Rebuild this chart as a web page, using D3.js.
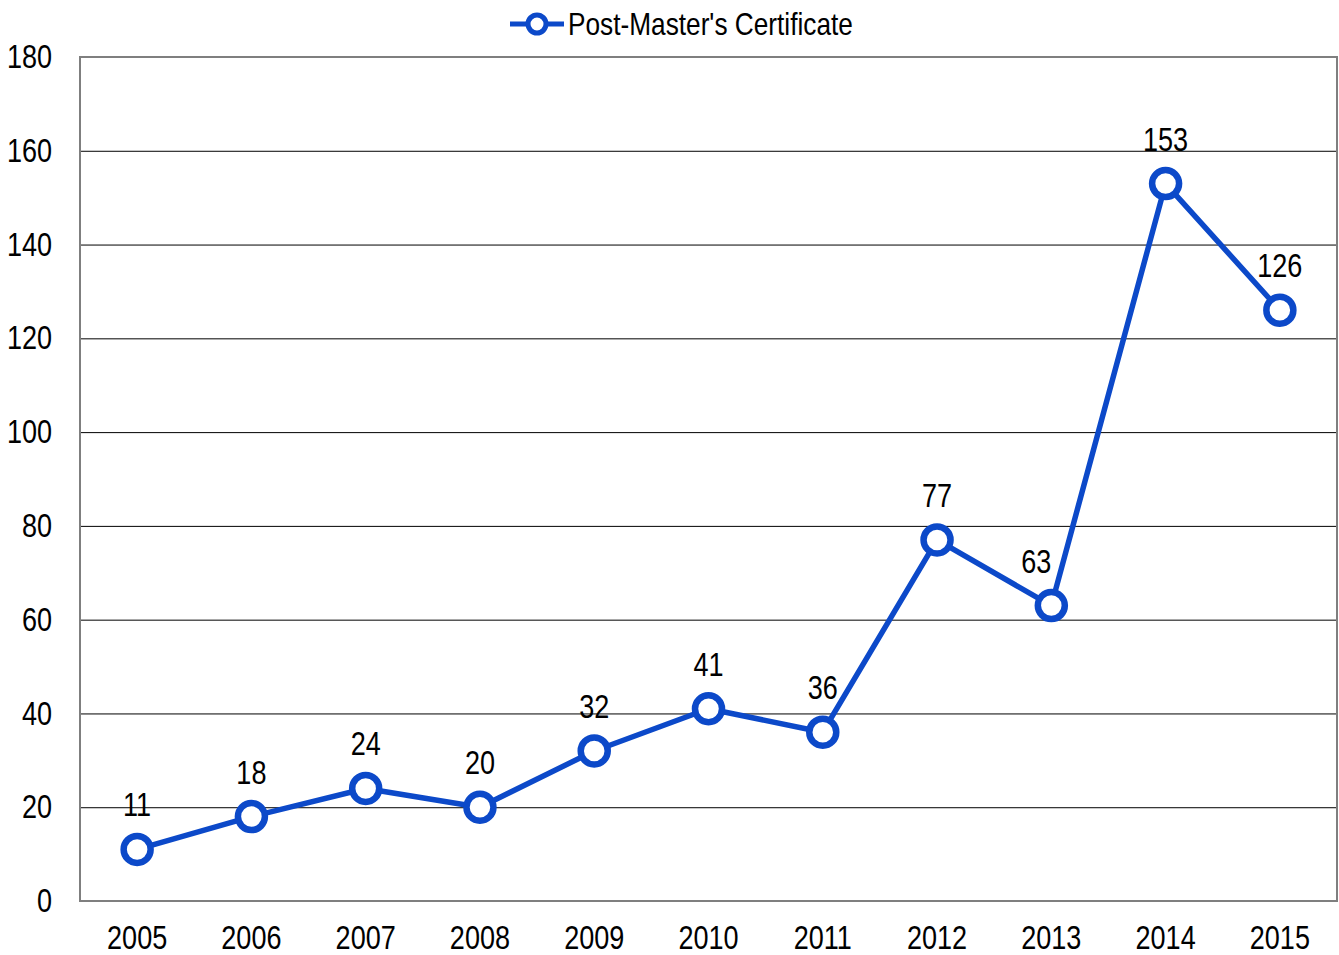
<!DOCTYPE html>
<html>
<head>
<meta charset="utf-8">
<script src="https://cdn.jsdelivr.net/npm/d3@7"></script>
<style>
  body { margin: 0; background: #fff; }
  text { font-family: "Liberation Sans", Arial, sans-serif; fill: #000; }
</style>
</head>
<body>
<div id="chart"></div>
<script>
const years = ["2005", "2006", "2007", "2008", "2009", "2010", "2011", "2012", "2013", "2014", "2015"]
const certificates = [11, 18, 24, 20, 32, 41, 36, 77, 63, 153, 126]
const yTicks = [0, 20, 40, 60, 80, 100, 120, 140, 160, 180]
const seriesName = "Post-Master's Certificate"

const width = 1339, height = 955
const margin = {top: 57, right: 2, bottom: 54, left: 80}
const blue = "#0c49c9"
const squeeze = 0.82  // fake a narrow face, no Arial Narrow here

// label nudges like excel did (2013 label sits left of the line)
const labelDx = {"2013": -15}

// squeeze text horizontally around its own x anchor
function narrow(sel) {
  sel.each(function() {
    const t = d3.select(this)
    const ax = +t.attr("x") || 0
    t.attr("transform", `translate(${ax},0) scale(${squeeze},1) translate(${-ax},0)`)
  })
}

const svg = d3.select("#chart")
  .append("svg")
  .attr("width", width)
  .attr("height", height)

const x = d3.scaleBand()
  .domain(years)
  .range([margin.left, width - margin.right])

const y = d3.scaleLinear()
  .domain([0, 180])
  .range([height - margin.bottom, margin.top])

// gridlines
svg.append("g")
  .selectAll("line")
  .data(yTicks.filter(d => d > 0 && d < 180))
  .join("line")
  .attr("x1", margin.left)
  .attr("x2", width - margin.right)
  .attr("y1", d => y(d) + 0.5)
  .attr("y2", d => y(d) + 0.5)
  .attr("stroke", "#000")
  .attr("stroke-width", 1)

// plot frame
svg.append("rect")
  .attr("x", margin.left)
  .attr("y", margin.top)
  .attr("width", width - margin.right - margin.left)
  .attr("height", height - margin.bottom - margin.top)
  .attr("fill", "none")
  .attr("stroke", "#7f7f7f")
  .attr("stroke-width", 2)

// y axis labels
const yAxis = svg.append("g")
  .attr("transform", `translate(${margin.left},0)`)
  .call(d3.axisLeft(y).tickValues(yTicks).tickSize(0).tickPadding(28))
yAxis.select(".domain").remove()
yAxis.selectAll("text")
  .style("font-size", "33px")
  .style("font-family", null)
  .call(narrow)

// x axis labels
const xAxis = svg.append("g")
  .attr("transform", `translate(0,${height - margin.bottom})`)
  .call(d3.axisBottom(x).tickSize(0).tickPadding(25))
xAxis.select(".domain").remove()
xAxis.selectAll("text")
  .style("font-size", "33px")
  .style("font-family", null)
  .call(narrow)

const cx = d => x(d) + x.bandwidth() / 2

const line = d3.line()
  .x((d, i) => cx(years[i]))
  .y(d => y(d))

svg.append("path")
  .datum(certificates)
  .attr("fill", "none")
  .attr("stroke", blue)
  .attr("stroke-width", 5.5)
  .attr("stroke-linejoin", "round")
  .attr("d", line)

svg.append("g")
  .selectAll("circle")
  .data(certificates)
  .join("circle")
  .attr("cx", (d, i) => cx(years[i]))
  .attr("cy", d => y(d))
  .attr("r", 13.5)
  .attr("fill", "#fff")
  .attr("stroke", blue)
  .attr("stroke-width", 6.5)

// data labels
svg.append("g")
  .selectAll("text")
  .data(certificates)
  .join("text")
  .attr("x", (d, i) => cx(years[i]) + (labelDx[years[i]] || 0))
  .attr("y", d => y(d) - 33)
  .attr("text-anchor", "middle")
  .style("font-size", "33px")
  .text(d => d)
  .call(narrow)

// legend
const legend = svg.append("g").attr("transform", "translate(510,24)")
legend.append("line")
  .attr("x1", 0).attr("x2", 54)
  .attr("stroke", blue)
  .attr("stroke-width", 5)
legend.append("circle")
  .attr("cx", 27)
  .attr("r", 9)
  .attr("fill", "#fff")
  .attr("stroke", blue)
  .attr("stroke-width", 5)
legend.append("text")
  .attr("x", 58)
  .attr("dy", "0.35em")
  .style("font-size", "32px")
  .text(seriesName)
  .call(narrow)
</script>
</body>
</html>
